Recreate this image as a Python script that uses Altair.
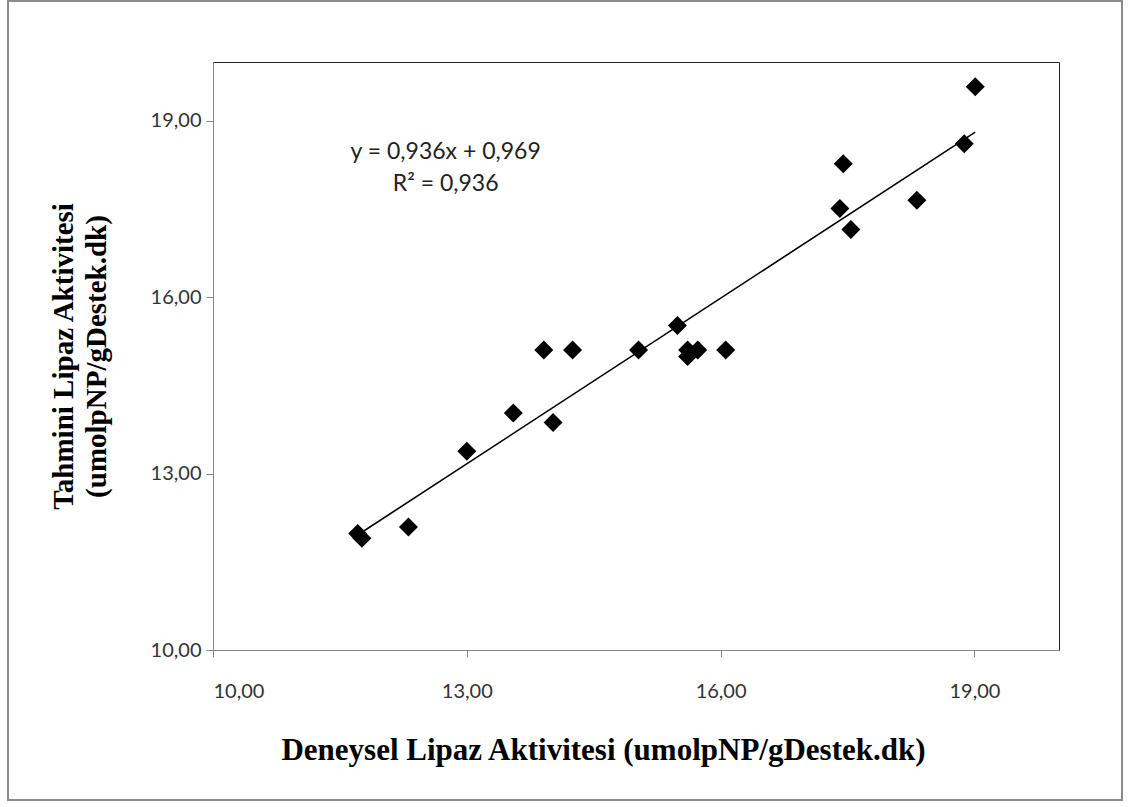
import altair as alt
import pandas as pd

# Values
x_deneysel = [19.01, 18.88, 17.45, 17.41, 17.54, 18.32, 15.49, 15.03, 15.61, 15.61,
              15.73, 16.06, 13.91, 14.25, 13.55, 14.02, 13.00, 12.31, 11.71, 11.76]
y_tahmini = [19.58, 18.61, 18.27, 17.51, 17.15, 17.65, 15.52, 15.10, 15.10, 14.99,
             15.10, 15.10, 15.10, 15.10, 14.03, 13.87, 13.38, 12.09, 11.98, 11.90]
tick_values = [10, 13, 16, 19]
eq_lines = ["y = 0,936x + 0,969", "R² = 0,936"]
eq_x = [12.75, 12.75]
eq_y = [18.47, 17.92]

df = pd.DataFrame({"x": x_deneysel, "y": y_tahmini})
df_eq = pd.DataFrame({"t": eq_lines, "x": eq_x, "y": eq_y})

label_expr = "replace(format(datum.value, '.2f'), '.', ',')"

xscale = alt.Scale(domain=[10, 20], nice=False, zero=False)
yscale = alt.Scale(domain=[10, 20], nice=False, zero=False)

xaxis = alt.Axis(
    values=tick_values, labelExpr=label_expr, grid=False,
    title="Deneysel Lipaz Aktivitesi (umolpNP/gDestek.dk)",
    titleFont="Liberation Serif", titleFontSize=31, titleFontWeight="bold",
    titleColor="#000000", titleX=390, titleY=100, titleBaseline="middle",
    titleAlign="center",
    labelFont="Lato", labelFontSize=20, labelColor="#333333", labelPadding=24,
    tickSize=7, tickColor="#868686", domainColor="#868686",
)
yaxis = alt.Axis(
    values=tick_values, labelExpr=label_expr, grid=False,
    title=["Tahmini Lipaz Aktivitesi", "(umolpNP/gDestek.dk)"],
    titleFont="Liberation Serif", titleFontSize=29, titleFontWeight="bold",
    titleColor="#000000", titleX=-150, titleY=294, titleBaseline="middle",
    titleAlign="center", titleLineHeight=33,
    labelFont="Lato", labelFontSize=20, labelColor="#333333", labelPadding=5,
    tickSize=7, tickColor="#868686", domainColor="#868686",
)

points = alt.Chart(df).mark_point(
    shape="diamond", filled=True, color="#000000", size=361, opacity=1
).encode(
    x=alt.X("x:Q", scale=xscale, axis=xaxis),
    y=alt.Y("y:Q", scale=yscale, axis=yaxis),
)

fit = alt.Chart(df).transform_regression("x", "y").mark_line(
    color="#000000", strokeWidth=1.6
).encode(
    x=alt.X("x:Q", scale=xscale),
    y=alt.Y("y:Q", scale=yscale),
)

eq = alt.Chart(df_eq).mark_text(
    font="Lato", fontSize=23, color="#222222", align="center", baseline="middle"
).encode(
    x=alt.X("x:Q", scale=xscale),
    y=alt.Y("y:Q", scale=yscale),
    text="t:N",
)

frame = alt.Chart(df.head(1)).mark_rect(
    fill=None, stroke="#8c8c8c", strokeWidth=2
).encode(
    x=alt.value(-205), x2=alt.value(909), y=alt.value(-61), y2=alt.value(738)
)

chart = alt.layer(frame, fit, points, eq).properties(
    width=846, height=588,
    autosize=alt.AutoSizeParams(type="none"),
    padding={"left": 213, "top": 62, "right": 71, "bottom": 157},
    background="#ffffff",
).configure_view(
    stroke="#222222", strokeWidth=1
)

chart.save("out.html", embed_options={"renderer": "svg", "actions": False})
